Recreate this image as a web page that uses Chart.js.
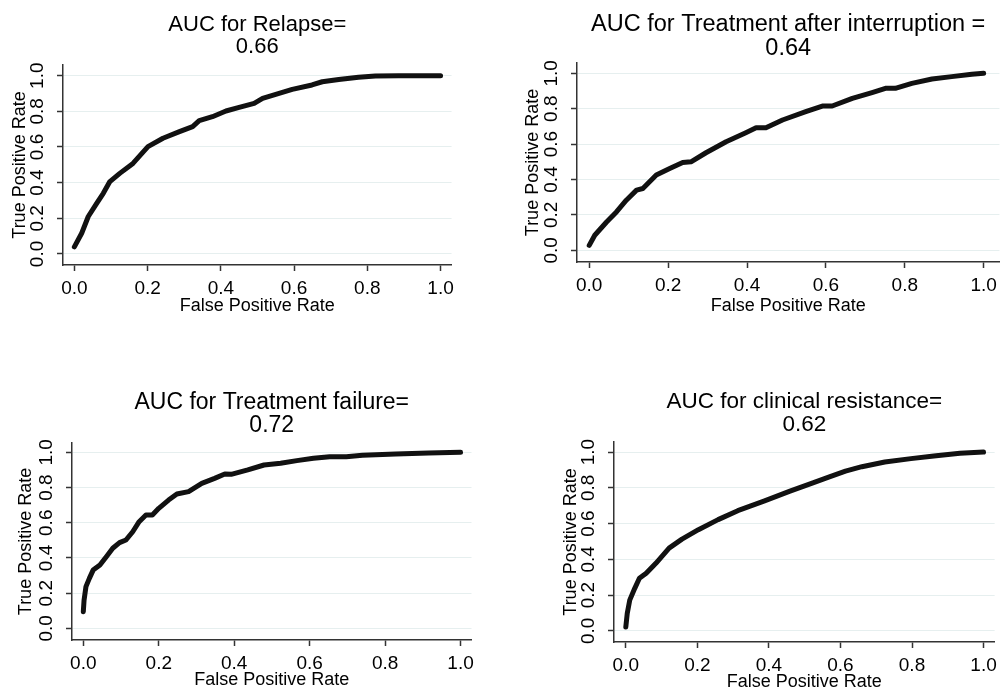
<!DOCTYPE html>
<html>
<head>
<meta charset="utf-8">
<script src="https://cdn.jsdelivr.net/npm/chart.js@4.4.1/dist/chart.umd.min.js"></script>
<style>
html, body { margin: 0; padding: 0; background: #fff; }
#page { position: relative; width: 1003px; height: 691px; overflow: hidden; background: #fff; }
#page canvas { position: absolute; }
</style>
</head>
<body>
<div id="page">
    <canvas id="relapse" width="460" height="320" style="left:0;top:0"></canvas>
    <canvas id="interruption" width="503" height="320" style="left:500px;top:0"></canvas>
    <canvas id="failure" width="480" height="320" style="left:0;top:380px"></canvas>
    <canvas id="resistance" width="463" height="320" style="left:540px;top:380px"></canvas>
</div>
<script>
// ROC curves
const tickValues = [0, 0.2, 0.4, 0.6, 0.8, 1.0];

const relapseFpr = [0.0, 0.02, 0.038, 0.061, 0.079, 0.097, 0.124, 0.16, 0.201, 0.242, 0.287, 0.323, 0.341, 0.377, 0.414, 0.45, 0.491, 0.514, 0.55, 0.595, 0.649, 0.677, 0.722, 0.776, 0.822, 0.885, 1.0];
const relapseTpr = [0.04, 0.116, 0.21, 0.284, 0.34, 0.406, 0.452, 0.508, 0.602, 0.649, 0.686, 0.714, 0.748, 0.77, 0.802, 0.822, 0.845, 0.873, 0.895, 0.923, 0.948, 0.966, 0.979, 0.991, 0.998, 1.0, 1.0];

const interruptionFpr = [0.0, 0.014, 0.044, 0.069, 0.094, 0.12, 0.136, 0.17, 0.204, 0.237, 0.258, 0.296, 0.347, 0.397, 0.423, 0.448, 0.49, 0.549, 0.591, 0.616, 0.667, 0.717, 0.751, 0.776, 0.818, 0.869, 0.919, 0.97, 1.0];
const interruptionTpr = [0.028, 0.085, 0.16, 0.217, 0.283, 0.34, 0.349, 0.425, 0.462, 0.496, 0.5, 0.551, 0.613, 0.664, 0.692, 0.692, 0.736, 0.783, 0.815, 0.815, 0.858, 0.891, 0.915, 0.915, 0.943, 0.968, 0.981, 0.995, 1.0];

const failureFpr = [0.0, 0.002, 0.007, 0.016, 0.026, 0.044, 0.061, 0.078, 0.096, 0.113, 0.131, 0.148, 0.166, 0.183, 0.2, 0.226, 0.248, 0.279, 0.314, 0.348, 0.375, 0.392, 0.436, 0.479, 0.523, 0.566, 0.61, 0.653, 0.697, 0.74, 0.828, 0.915, 1.0];
const failureTpr = [0.095, 0.161, 0.237, 0.284, 0.331, 0.36, 0.407, 0.455, 0.487, 0.502, 0.549, 0.606, 0.644, 0.644, 0.682, 0.729, 0.763, 0.777, 0.824, 0.852, 0.877, 0.875, 0.9, 0.928, 0.938, 0.953, 0.966, 0.975, 0.975, 0.983, 0.991, 0.996, 1.0];

const resistanceFpr = [0.0, 0.004, 0.011, 0.025, 0.038, 0.057, 0.084, 0.121, 0.157, 0.203, 0.258, 0.313, 0.386, 0.459, 0.523, 0.569, 0.614, 0.66, 0.724, 0.797, 0.861, 0.934, 1.0];
const resistanceTpr = [0.022, 0.097, 0.172, 0.238, 0.294, 0.322, 0.378, 0.463, 0.513, 0.566, 0.622, 0.672, 0.725, 0.781, 0.828, 0.861, 0.893, 0.918, 0.944, 0.963, 0.978, 0.993, 1.0];

const relapseTitle = ['AUC for Relapse=', '0.66'];
const interruptionTitle = ['AUC for Treatment after interruption =', '0.64'];
const failureTitle = ['AUC for Treatment failure=', '0.72'];
const resistanceTitle = ['AUC for clinical resistance=', '0.62'];

const FONT = "'Liberation Sans', Arial, sans-serif";
const AXIS = '#333333';
const TEXT = '#000000';

function drawPanel(id, fpr, tpr, title, box) {
    const points = fpr.map((x, i) => ({ x, y: tpr[i] }));

    return new Chart(document.getElementById(id), {
        type: 'scatter',
        data: {
            datasets: [{
                data: points,
                showLine: true,
                borderColor: '#111111',
                borderWidth: 5,
                pointRadius: 0,
                borderJoinStyle: 'round',
                borderCapStyle: 'round',
                tension: 0,
            }],
        },
        options: {
            responsive: false,
            animation: false,
            devicePixelRatio: 1,
            layout: { padding: { left: 0, right: box.padRight, top: 0, bottom: 0 } },
            plugins: {
                legend: { display: false },
                tooltip: { enabled: false },
                title: {
                    display: true,
                    text: title,
                    fullSize: false,
                    color: TEXT,
                    font: { family: FONT, size: box.titleSize, weight: 'normal', lineHeight: 1.0 },
                    padding: { top: box.titleTop, bottom: box.titleBottom },
                },
            },
            scales: {
                x: {
                    type: 'linear',
                    min: box.xMin,
                    max: box.xMax,
                    afterBuildTicks: (scale) => { scale.ticks = tickValues.map((v) => ({ value: v })); },
                    afterFit: (scale) => { scale.height = box.xHeight; },
                    grid: { drawOnChartArea: false, drawTicks: true, tickLength: 6, tickColor: AXIS, tickWidth: 1.5 },
                    border: { display: true, color: AXIS, width: 1.5 },
                    ticks: {
                        autoSkip: false, minRotation: 0, maxRotation: 0, padding: 6,
                        color: TEXT, font: { family: FONT, size: 19 },
                        callback: (v) => Number(v).toFixed(1),
                    },
                    title: {
                        display: true, text: 'False Positive Rate', color: TEXT,
                        font: { family: FONT, size: 18, lineHeight: 1.2 },
                        padding: { top: 0, bottom: box.xTitlePad },
                    },
                },
                y: {
                    type: 'linear',
                    min: box.yMin,
                    max: box.yMax,
                    afterBuildTicks: (scale) => { scale.ticks = tickValues.map((v) => ({ value: v })); },
                    afterFit: (scale) => { scale.width = box.yWidth; },
                    grid: { color: '#e6efef', lineWidth: 1, drawTicks: true, tickLength: 6, tickColor: AXIS, tickWidth: 1.5 },
                    border: { display: true, color: AXIS, width: 1.5 },
                    ticks: {
                        autoSkip: false, minRotation: 90, maxRotation: 90, crossAlign: 'center', padding: 6,
                        color: TEXT, font: { family: FONT, size: 19 },
                        callback: (v) => Number(v).toFixed(1),
                    },
                    title: {
                        display: true, text: 'True Positive Rate', color: TEXT,
                        font: { family: FONT, size: 18, lineHeight: 1.2 },
                        padding: { top: box.yTitlePad, bottom: 0 },
                    },
                },
            },
        },
    });
}

drawPanel('relapse', relapseFpr, relapseTpr, relapseTitle, {
    yWidth: 63, xHeight: 55, padRight: 7, titleSize: 22, titleTop: 14, titleBottom: 7,
    xTitlePad: 3, yTitlePad: 9,
    xMin: -0.031, xMax: 1.030, yMin: -0.062, yMax: 1.060,
});
drawPanel('interruption', interruptionFpr, interruptionTpr, interruptionTitle, {
    yWidth: 77, xHeight: 58, padRight: 2, titleSize: 23.5, titleTop: 13, titleBottom: 3,
    xTitlePad: 3, yTitlePad: 22,
    xMin: -0.031, xMax: 1.040, yMin: -0.066, yMax: 1.058,
});
drawPanel('failure', failureFpr, failureTpr, failureTitle, {
    yWidth: 72, xHeight: 60, padRight: 3, titleSize: 23, titleTop: 11, titleBottom: 6,
    xTitlePad: 9, yTitlePad: 15,
    xMin: -0.030, xMax: 1.029, yMin: -0.066, yMax: 1.053,
});
drawPanel('resistance', resistanceFpr, resistanceTpr, resistanceTitle, {
    yWidth: 74, xHeight: 58, padRight: 1, titleSize: 22.5, titleTop: 11, titleBottom: 6,
    xTitlePad: 7, yTitlePad: 20,
    xMin: -0.033, xMax: 1.031, yMin: -0.062, yMax: 1.056,
});
</script>
</body>
</html>
